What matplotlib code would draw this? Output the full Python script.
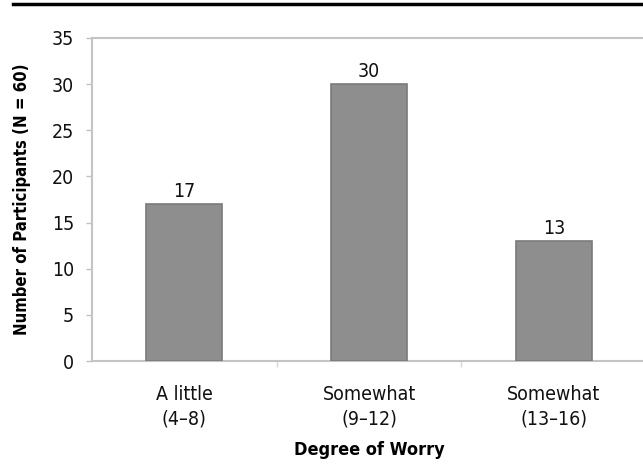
import matplotlib.pyplot as plt
from matplotlib.lines import Line2D

categories = ["A little\n(4\u20138)", "Somewhat\n(9\u201312)", "Somewhat\n(13\u201316)"]
counts = [17, 30, 13]
y_ticks = [0, 5, 10, 15, 20, 25, 30, 35]

plt.rcParams['font.family'] = ['DejaVu Sans']
plt.rcParams['font.stretch'] = 'condensed'

fig = plt.figure(figsize=(6.43, 4.66), dpi=100)
ax = fig.add_axes([0.143, 0.2253, 0.862, 0.6932])

x = list(range(len(categories)))
bars = ax.bar(x, counts, width=0.41, color='#8e8e8e', edgecolor='#7a7a7a', linewidth=1.2, zorder=3)
ax.bar_label(bars, labels=[str(c) for c in counts], padding=2, fontsize=14, color='#111111')

ax.set_xlim(-0.5, len(categories) - 0.5)
ax.set_ylim(0, 35)
ax.set_yticks(y_ticks)
ax.set_yticklabels([str(t) for t in y_ticks], fontsize=14, color='#111111')

# category labels centred, small ticks at the boundaries
ax.set_xticks(x)
ax.set_xticklabels(categories, fontsize=14, color='#111111', linespacing=1.4)
ax.tick_params(axis='x', length=0, pad=17)
ax.set_xticks([i + 0.5 for i in x[:-1]], minor=True)
ax.tick_params(axis='x', which='minor', length=4, color='#d8d8d8', width=1)
ax.tick_params(axis='y', length=4, color='#c0c0c0', width=1, pad=9)

for side in ['left', 'bottom', 'top']:
    ax.spines[side].set_color('#c4c4c4')
    ax.spines[side].set_linewidth(1.5)
ax.spines['right'].set_color('#ececec')
ax.spines['right'].set_linewidth(1.2)

ax.set_ylabel('Number of Participants (N = 60)', fontsize=12, fontweight='bold', labelpad=15)
ax.set_xlabel('Degree of Worry', fontsize=13, fontweight='bold', labelpad=9)

# black rule across the top of the figure
fig.add_artist(Line2D([0.02, 1.0], [0.992, 0.992], transform=fig.transFigure, color='black', linewidth=2.5))

fig.savefig('out.png', dpi=100)
